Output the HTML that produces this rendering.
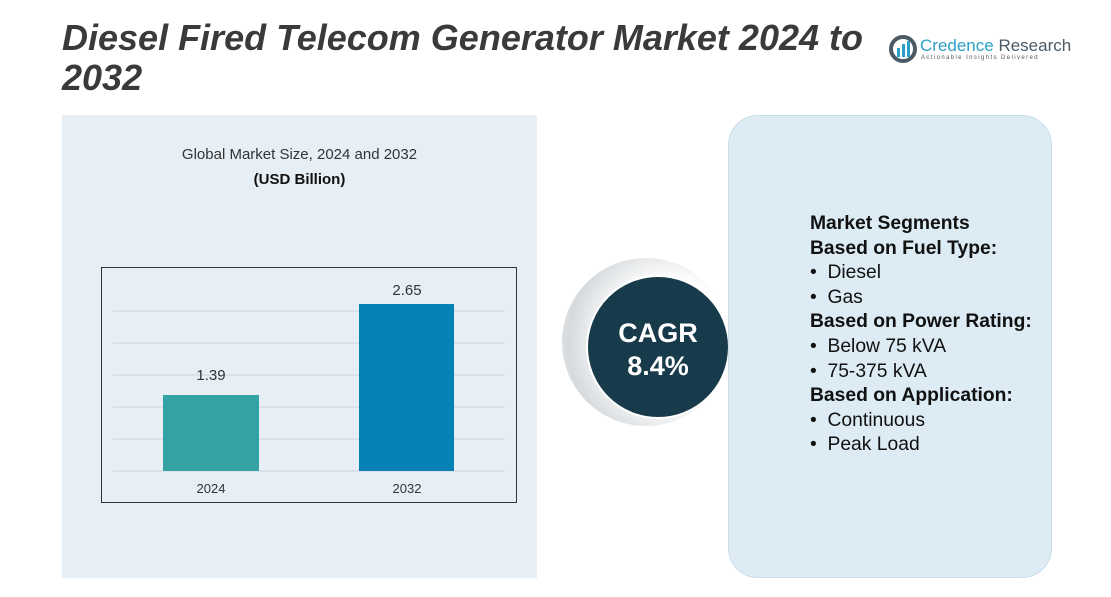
<!DOCTYPE html><html><head><style>
body{margin:0;width:1111px;height:597px;background:#fff;position:relative;overflow:hidden;font-family:"Liberation Sans",sans-serif}
.a{position:absolute}
</style></head><body>
<div class="a" style="left:62px;top:18px;font-size:36px;font-weight:bold;font-style:italic;color:#3a3a3a;line-height:40px;width:860px">Diesel Fired Telecom Generator Market 2024 to<br>2032</div>
<svg class="a" style="left:888px;top:34px" width="30" height="30"><circle cx="15" cy="15" r="12" fill="none" stroke="#4a5a66" stroke-width="4"/><rect x="9" y="14" width="3" height="9" fill="#2a9fc8"/><rect x="14" y="10" width="3" height="13" fill="#2a9fc8"/><rect x="19" y="7" width="3" height="16" fill="#2a9fc8"/></svg>
<div class="a" style="left:920px;top:36px;font-size:17px;color:#2a9fc8">Credence <span style="color:#4a5a66">Research</span></div>
<div class="a" style="left:921px;top:55px;font-size:6px;letter-spacing:1.4px;color:#555">Actionable Insights Delivered</div>
<div class="a" style="left:62px;top:115px;width:475px;height:463px;background:#e6eff6"></div>
<div class="a" style="left:62px;top:146px;width:475px;text-align:center;font-size:15px;color:#333">Global Market Size, 2024 and 2032</div>
<div class="a" style="left:62px;top:171px;width:475px;text-align:center;font-size:15px;font-weight:bold;color:#111">(USD Billion)</div>
<svg class="a" style="left:101px;top:267px" width="417" height="237">
<rect x="0.5" y="0.5" width="415" height="235" fill="none" stroke="#333"/>
<g stroke="#ccd6de"><line x1="12" x2="404" y1="44" y2="44"/><line x1="12" x2="404" y1="76" y2="76"/><line x1="12" x2="404" y1="108" y2="108"/><line x1="12" x2="404" y1="140" y2="140"/><line x1="12" x2="404" y1="172" y2="172"/><line x1="12" x2="404" y1="204" y2="204"/></g>
<rect x="62" y="128" width="96" height="76" fill="#34a3a3"/>
<rect x="258" y="37" width="95" height="167" fill="#0782b6"/>
<text x="110" y="113" font-size="15" text-anchor="middle" fill="#333" font-family="Liberation Sans">1.39</text>
<text x="306" y="28" font-size="15" text-anchor="middle" fill="#333" font-family="Liberation Sans">2.65</text>
<text x="110" y="226" font-size="13" text-anchor="middle" fill="#333" font-family="Liberation Sans">2024</text>
<text x="306" y="226" font-size="13" text-anchor="middle" fill="#333" font-family="Liberation Sans">2032</text>
</svg>
<div class="a" style="left:562px;top:258px;width:168px;height:168px;border-radius:50%;background:radial-gradient(circle at 65% 50%,#fff 45%,#d6dadd 75%,#f6f7f8 100%)"></div>
<div class="a" style="left:586px;top:275px;width:144px;height:144px;border-radius:50%;background:#173b4a;border:2px solid #fff;color:#fff;text-align:center;font-weight:bold;font-size:27px;line-height:33px;box-sizing:border-box;padding-top:40px">CAGR<br>8.4%</div>
<div class="a" style="left:728px;top:115px;width:324px;height:463px;border-radius:30px;background:#dcebf4;border:1px solid #c9dde9;box-sizing:border-box"></div>
<div class="a" style="left:810px;top:212px;font-size:19.3px;color:#111;line-height:24.6px">
<b>Market Segments</b><br><b>Based on Fuel Type:</b><br>•&nbsp;&nbsp;Diesel<br>•&nbsp;&nbsp;Gas<br><b>Based on Power Rating:</b><br>•&nbsp;&nbsp;Below 75 kVA<br>•&nbsp;&nbsp;75-375 kVA<br><b>Based on Application:</b><br>•&nbsp;&nbsp;Continuous<br>•&nbsp;&nbsp;Peak Load</div>
</body></html>
